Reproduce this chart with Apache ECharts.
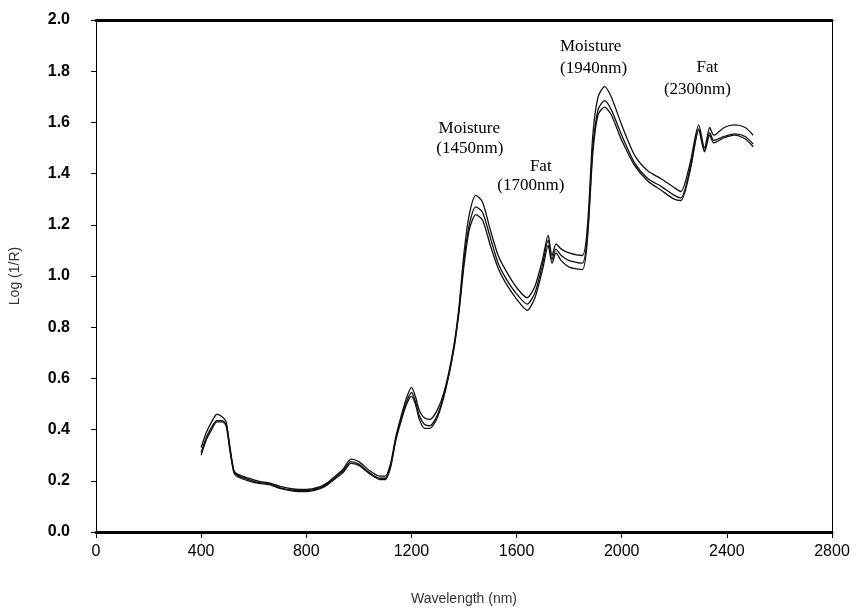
<!DOCTYPE html>
<html>
<head>
<meta charset="utf-8">
<script src="https://cdn.jsdelivr.net/npm/echarts@6/dist/echarts.min.js"></script>
<style>
  html, body { margin: 0; padding: 0; background: #fff; }
  #chart { width: 862px; height: 611px; }
</style>
</head>
<body>
<div id="chart"></div>
<script>
// wavelength (nm) sampled along the curves
const wavelengths = [400, 420, 440, 460, 480, 495, 510, 525, 540, 580, 620, 660, 700, 750, 800, 850, 880, 910, 940, 970,
  1000, 1040, 1080, 1100, 1120, 1140, 1160, 1180, 1200, 1215, 1230, 1250, 1270, 1300, 1330, 1360, 1380, 1400, 1420, 1445,
  1470, 1500, 1530, 1560, 1600, 1640, 1670, 1700, 1720, 1735, 1750, 1770, 1800, 1850, 1870, 1890, 1910, 1935, 1960, 2000,
  2050, 2100, 2150, 2200, 2225, 2260, 2293, 2315, 2335, 2350, 2390, 2430, 2470, 2500]

// log(1/R) for the three samples
const sampleA = [0.33, 0.39, 0.43, 0.46, 0.45, 0.43, 0.33, 0.24, 0.225, 0.21, 0.198, 0.192, 0.178, 0.168, 0.166, 0.176, 0.192, 0.218, 0.245, 0.285,
  0.275, 0.24, 0.218, 0.218, 0.265, 0.37, 0.45, 0.52, 0.565, 0.53, 0.475, 0.445, 0.44, 0.48, 0.57, 0.72, 0.87, 1.09, 1.24, 1.315,
  1.29, 1.18, 1.08, 1.02, 0.955, 0.915, 0.96, 1.07, 1.16, 1.08, 1.125, 1.105, 1.09, 1.08, 1.2, 1.55, 1.7, 1.74, 1.7, 1.59,
  1.47, 1.41, 1.38, 1.345, 1.33, 1.44, 1.59, 1.5, 1.58, 1.55, 1.58, 1.59, 1.58, 1.55]

const sampleB = [0.31, 0.37, 0.41, 0.435, 0.435, 0.42, 0.32, 0.235, 0.22, 0.205, 0.193, 0.188, 0.172, 0.163, 0.162, 0.172, 0.188, 0.213, 0.238, 0.275,
  0.265, 0.232, 0.21, 0.21, 0.255, 0.36, 0.44, 0.505, 0.545, 0.51, 0.455, 0.42, 0.415, 0.46, 0.56, 0.71, 0.86, 1.06, 1.2, 1.27,
  1.25, 1.15, 1.05, 0.99, 0.93, 0.89, 0.935, 1.05, 1.14, 1.065, 1.105, 1.08, 1.06, 1.05, 1.17, 1.5, 1.65, 1.685, 1.65, 1.55,
  1.44, 1.38, 1.35, 1.315, 1.305, 1.42, 1.575, 1.49, 1.56, 1.53, 1.545, 1.555, 1.545, 1.515]

const sampleC = [0.3, 0.36, 0.4, 0.43, 0.43, 0.415, 0.315, 0.23, 0.215, 0.2, 0.19, 0.185, 0.17, 0.16, 0.158, 0.168, 0.184, 0.208, 0.232, 0.268,
  0.26, 0.228, 0.205, 0.205, 0.25, 0.355, 0.43, 0.495, 0.53, 0.5, 0.44, 0.405, 0.405, 0.45, 0.555, 0.705, 0.85, 1.04, 1.18, 1.24,
  1.22, 1.12, 1.03, 0.97, 0.91, 0.866, 0.915, 1.03, 1.12, 1.05, 1.09, 1.06, 1.035, 1.025, 1.15, 1.48, 1.63, 1.66, 1.63, 1.53,
  1.43, 1.37, 1.335, 1.3, 1.295, 1.41, 1.57, 1.485, 1.55, 1.52, 1.54, 1.55, 1.535, 1.505]

// peak annotations, placed in data coordinates
const notes = [
  { text: 'Moisture', wl: 1420, val: 1.575 },
  { text: '(1450nm)', wl: 1422, val: 1.497 },
  { text: 'Fat', wl: 1692, val: 1.427 },
  { text: '(1700nm)', wl: 1654, val: 1.353 },
  { text: 'Moisture', wl: 1882, val: 1.895 },
  { text: '(1940nm)', wl: 1893, val: 1.81 },
  { text: 'Fat', wl: 2326, val: 1.814 },
  { text: '(2300nm)', wl: 2288, val: 1.729 }
]

const pairs = (ys) => wavelengths.map((w, i) => [w, ys[i]])

const lineSeries = (ys) => ({
  type: 'line',
  data: pairs(ys),
  symbol: 'none',
  smooth: 0.25,
  silent: true,
  lineStyle: { color: '#111', width: 1.3 }
})

const chart = echarts.init(document.getElementById('chart'))

const series = [lineSeries(sampleA), lineSeries(sampleB), lineSeries(sampleC)]
series[0].markPoint = {
  symbol: 'circle',
  symbolSize: 0,
  silent: true,
  label: {
    show: true,
    position: 'inside',
    color: '#000',
    fontFamily: 'Liberation Serif',
    fontSize: 17,
    formatter: (p) => p.name
  },
  data: notes.map(n => ({ name: n.text, coord: [n.wl, n.val] }))
}

chart.setOption({
  backgroundColor: '#fff',
  animation: false,
  grid: { left: 94, right: 30, top: 20, bottom: 69 },
  xAxis: [{
    type: 'value',
    min: 0,
    max: 2800,
    interval: 400,
    name: 'Wavelength (nm)',
    nameLocation: 'middle',
    nameGap: 60,
    nameTextStyle: { color: '#333', fontFamily: 'Liberation Sans', fontSize: 14 },
    axisLine: { onZero: false, lineStyle: { color: '#000', width: 3 } },
    axisTick: { show: true, length: 6, lineStyle: { color: '#000', width: 1 } },
    axisLabel: { color: '#000', fontFamily: 'Liberation Sans', fontSize: 16, margin: 12, formatter: (v) => String(v) },
    splitLine: { show: false }
  }, {
    type: 'value',
    position: 'top',
    min: 0,
    max: 2800,
    axisLine: { show: true, onZero: false, lineStyle: { color: '#000', width: 3 } },
    axisTick: { show: false },
    axisLabel: { show: false },
    splitLine: { show: false }
  }],
  yAxis: [{
    type: 'value',
    min: 0,
    max: 2,
    interval: 0.2,
    name: 'Log (1/R)',
    nameLocation: 'middle',
    nameGap: 74,
    nameRotate: 90,
    nameTextStyle: { color: '#333', fontFamily: 'Liberation Sans', fontSize: 14 },
    axisLine: { show: true, onZero: false, lineStyle: { color: '#000', width: 1 } },
    axisTick: { show: true, length: 5, lineStyle: { color: '#000', width: 1 } },
    axisLabel: {
      color: '#000',
      fontFamily: 'Liberation Sans',
      fontSize: 16,
      fontWeight: 'bold',
      margin: 26,
      formatter: (v) => v.toFixed(1)
    },
    splitLine: { show: false }
  }, {
    type: 'value',
    position: 'right',
    min: 0,
    max: 2,
    axisLine: { show: true, onZero: false, lineStyle: { color: '#000', width: 1 } },
    axisTick: { show: false },
    axisLabel: { show: false },
    splitLine: { show: false }
  }],
  series: series
})
</script>
</body>
</html>
